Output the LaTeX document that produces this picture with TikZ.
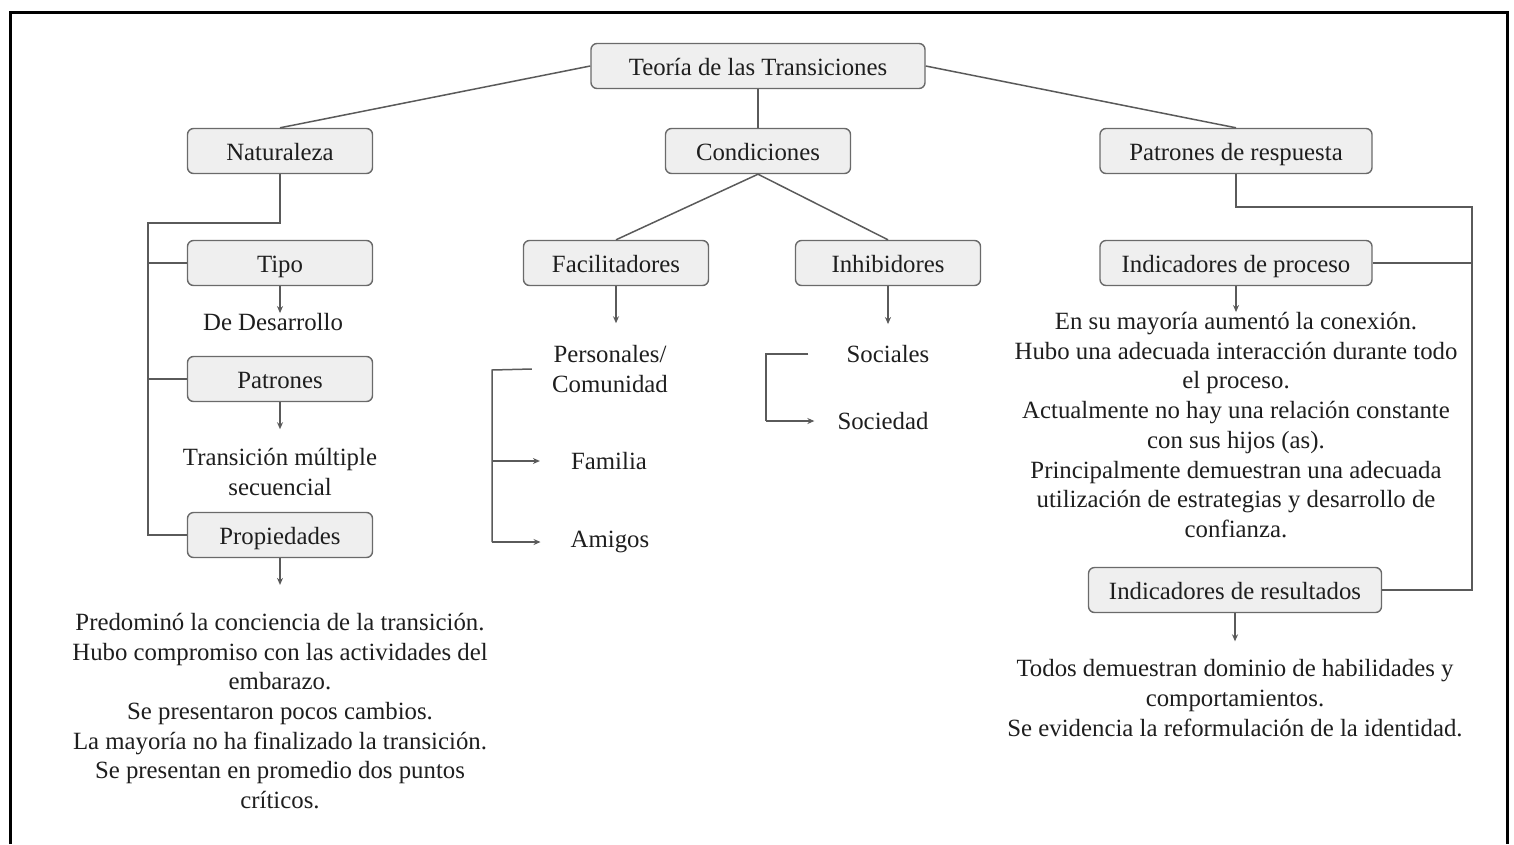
\documentclass[tikz,border=0pt]{standalone}
\usepackage{fontspec}
\setmainfont{Liberation Serif}
\usetikzlibrary{arrows.meta}
\definecolor{linegray}{HTML}{5A5A5A}
\definecolor{boxfill}{HTML}{EFEFEF}
\definecolor{boxline}{HTML}{6A6A6A}
\definecolor{txt}{HTML}{1E1E1E}
\tikzset{
  box/.style={draw=boxline, line width=1.4pt, fill=boxfill, rounded corners=6pt,
    minimum height=45pt, inner sep=0pt, text height=20pt, text depth=1pt,
    text=txt, font=\fontsize{24.8}{30}\selectfont},
  leaf/.style={inner sep=0pt, align=center, text=txt, font=\fontsize{24.8}{29.7}\selectfont},
  conn/.style={draw=linegray, line width=1.5pt},
  arr/.style={conn, -{Stealth[length=7pt,width=6pt]}},
}
\begin{document}
\begin{tikzpicture}[x=1pt,y=-1pt]
\useasboundingbox (0,0) rectangle (1514,844);
\draw[line width=3pt, black] (10,844) -- (10,12.5) -- (1507,12.5) -- (1507,844);

% boxes
\node[box, minimum width=334pt] (teo) at (758,66) {Teoría de las Transiciones};
\node[box, minimum width=185pt] (nat) at (280,151) {Naturaleza};
\node[box, minimum width=185pt] (con) at (758,151) {Condiciones};
\node[box, minimum width=272pt] (pr) at (1236,151) {Patrones de respuesta};
\node[box, minimum width=185pt] (tipo) at (280,263) {Tipo};
\node[box, minimum width=185pt] (pat) at (280,379) {Patrones};
\node[box, minimum width=185pt] (prop) at (280,535) {Propiedades};
\node[box, minimum width=185pt] (fac) at (616,263) {Facilitadores};
\node[box, minimum width=185pt] (inh) at (888,263) {Inhibidores};
\node[box, minimum width=272pt] (ip) at (1236,263) {Indicadores de proceso};
\node[box, minimum width=293pt] (ir) at (1235,590) {Indicadores de resultados};

% leaves
\node[leaf] (desa) at (273,322) {De Desarrollo};
\node[leaf] (trans) at (280,472) {Transición múltiple\\secuencial};
\node[leaf] (predo) at (280,711) {Predominó la conciencia de la transición.\\Hubo compromiso con las actividades del\\embarazo.\\Se presentaron pocos cambios.\\La mayoría no ha finalizado la transición.\\Se presentan en promedio dos puntos\\críticos.};
\node[leaf] (pers) at (610,369) {Personales/\\Comunidad};
\node[leaf] (fam) at (609,461) {Familia};
\node[leaf] (ami) at (610,542) {Amigos};
\node[leaf] (soc) at (888,354) {Sociales};
\node[leaf] (socd) at (883,421) {Sociedad};
\node[leaf] (ipt) at (1236,425) {En su mayoría aumentó la conexión.\\Hubo una adecuada interacción durante todo\\el proceso.\\Actualmente no hay una relación constante\\con sus hijos (as).\\Principalmente demuestran una adecuada\\utilización de estrategias y desarrollo de\\confianza.};
\node[leaf] (irt) at (1235,698) {Todos demuestran dominio de habilidades y\\comportamientos.\\Se evidencia la reformulación de la identidad.};

% top connectors
\draw[conn] (teo.west) -- (nat.north);
\draw[conn] (teo.south) -- (con.north);
\draw[conn] (teo.east) -- (pr.north);
\draw[conn] (con.south) -- (fac.north);
\draw[conn] (con.south) -- (inh.north);

% Naturaleza bracket
\coordinate (nj) at (148,223);
\draw[conn] (nat.south) |- (nj) |- (prop.west);
\draw[conn] (nj |- tipo.west) -- (tipo.west);
\draw[conn] (nj |- pat.west) -- (pat.west);

% Patrones de respuesta bracket
\coordinate (pj) at (1472,207);
\draw[conn] (pr.south) |- (pj) |- (ir.east);
\draw[conn] (pj |- ip.east) -- (ip.east);

% arrows to leaves
\draw[arr] (tipo.south) -- (tipo.south |- desa.north);
\draw[arr, shorten >=19pt] (pat.south) -- (pat.south |- trans.north);
\draw[arr, shorten >=28pt] (prop.south) -- (prop.south |- predo.north);
\draw[arr, shorten >=22pt] (fac.south) -- (fac.south |- pers.north);
\draw[arr, shorten >=21pt] (inh.south) -- (inh.south |- soc.north);
\draw[arr] (ip.south) -- (ip.south |- ipt.north);
\draw[arr, shorten >=18pt] (ir.south) -- (ir.south |- irt.north);

% Facilitadores sub-bracket
\coordinate (fj) at (492,370);
\draw[conn] ([xshift=-20pt]pers.west) -- (fj) -- (fj |- ami.west);
\draw[arr] (fj |- fam.west) -- ([xshift=-31pt]fam.west);
\draw[arr] (fj |- ami.west) -- ([xshift=-30pt]ami.west);

% Inhibidores sub-bracket
\coordinate (ij) at (766,354);
\draw[conn] ([xshift=-38pt]soc.west) -- (ij) -- (ij |- socd.west);
\draw[arr] (ij |- socd.west) -- ([xshift=-23pt]socd.west);
\end{tikzpicture}
\end{document}
